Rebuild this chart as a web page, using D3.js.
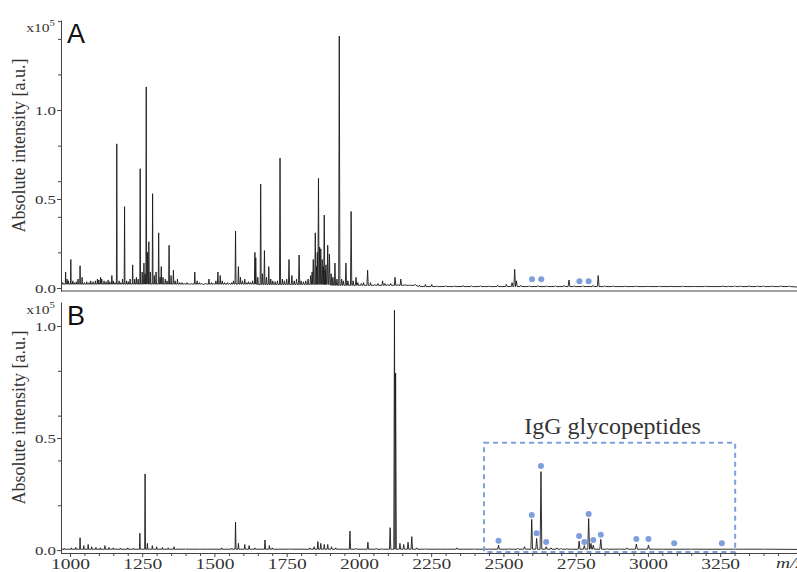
<!DOCTYPE html>
<html lang="en">
<head>
<meta charset="UTF-8">
<title>Mass spectra A / B</title>
<style>
  body { margin: 0; background: #fff; }
  svg { display: block; }
  .tick text, .lbl { font-family: "Liberation Serif", "Times New Roman", serif; fill: #333; }
  .domain, .tick line { stroke: #444; }
</style>
</head>
<body>
<div id="chart"></div>
<script src="https://d3js.org/d3.v7.min.js"></script>
<script>
// x axis ticks (m/z)
const xLabelTicks = [1000, 1250, 1500, 1750, 2000, 2250, 2500, 2750, 3000, 3250];
const xMinorStep = 50;
// y axis ticks (x10^5)
const yTicksA = [0, 0.2, 0.4, 0.5, 0.6, 0.8, 1.0, 1.2, 1.4, 1.5];
const yTicksB = [0, 0.2, 0.4, 0.5, 0.6, 0.8, 1.0];
const yLabelTicks = [0, 0.5, 1.0];

// spectrum A: [m/z, intensity x10^5]
const peaksA = [
  [985, 0.09], [1003, 0.16], [1035, 0.125], [1162, 0.81], [1189, 0.457], [1217, 0.13],
  [1243, 0.67], [1256, 0.14], [1264, 1.13], [1268, 0.2], [1273, 0.26], [1286, 0.53],
  [1307, 0.31], [1316, 0.12], [1343, 0.24], [1358, 0.10], [1372, 0.05], [1432, 0.09],
  [1481, 0.05], [1512, 0.09], [1520, 0.07], [1573, 0.32], [1583, 0.12], [1605, 0.05],
  [1640, 0.20], [1643, 0.17], [1660, 0.584], [1673, 0.21], [1688, 0.12], [1727, 0.73],
  [1758, 0.16], [1768, 0.07], [1793, 0.185], [1833, 0.07], [1842, 0.16], [1849, 0.31],
  [1856, 0.2], [1860, 0.616], [1864, 0.23], [1868, 0.22], [1873, 0.16], [1880, 0.41],
  [1886, 0.13], [1892, 0.24], [1898, 0.19], [1917, 0.14], [1932, 1.416], [1955, 0.14],
  [1973, 0.43], [1990, 0.06], [2030, 0.10], [2082, 0.04], [2125, 0.06], [2145, 0.05],
  [2252, 0.02], [2539, 0.105], [2545, 0.04], [2727, 0.045], [2828, 0.07]
];
const noiseA = [
  [975, 0.03], [990, 0.05], [995, 0.04], [1010, 0.04], [1015, 0.03], [1022, 0.035], [1028, 0.05],
  [1042, 0.06], [1050, 0.03], [1058, 0.035], [1066, 0.03], [1072, 0.04], [1080, 0.035], [1088, 0.04],
  [1095, 0.05], [1100, 0.045], [1106, 0.06], [1110, 0.05], [1118, 0.04], [1125, 0.035], [1132, 0.045],
  [1138, 0.035], [1145, 0.07], [1150, 0.04], [1156, 0.03], [1170, 0.04], [1176, 0.03], [1182, 0.05],
  [1196, 0.04], [1202, 0.035], [1208, 0.05], [1224, 0.05], [1230, 0.06], [1236, 0.05], [1250, 0.09],
  [1260, 0.08], [1278, 0.09], [1292, 0.07], [1298, 0.09], [1312, 0.06], [1322, 0.06], [1330, 0.05],
  [1336, 0.04], [1350, 0.07], [1364, 0.04], [1380, 0.03], [1388, 0.03], [1396, 0.025], [1405, 0.03],
  [1412, 0.02], [1420, 0.025], [1440, 0.04], [1448, 0.03], [1455, 0.025], [1462, 0.02], [1470, 0.025],
  [1490, 0.03], [1498, 0.025], [1505, 0.04], [1527, 0.04], [1535, 0.03], [1545, 0.03], [1552, 0.025],
  [1560, 0.03], [1566, 0.04], [1590, 0.06], [1597, 0.04], [1612, 0.03], [1618, 0.035], [1625, 0.03],
  [1632, 0.04], [1650, 0.06], [1666, 0.08], [1680, 0.06], [1695, 0.05], [1702, 0.04], [1710, 0.035],
  [1718, 0.04], [1735, 0.05], [1742, 0.04], [1750, 0.05], [1776, 0.04], [1784, 0.05], [1800, 0.04],
  [1808, 0.035], [1816, 0.04], [1824, 0.05], [1838, 0.09], [1853, 0.12], [1877, 0.12], [1883, 0.1],
  [1904, 0.08], [1910, 0.06], [1924, 0.05], [1940, 0.05], [1946, 0.04], [1962, 0.04], [1980, 0.04],
  [1996, 0.03], [2008, 0.025], [2016, 0.03], [2040, 0.03], [2055, 0.02], [2066, 0.025], [2090, 0.025],
  [2100, 0.02], [2110, 0.025], [2135, 0.02], [2160, 0.02], [2175, 0.015], [2195, 0.02], [2210, 0.015],
  [2230, 0.02], [2270, 0.012], [2300, 0.013], [2330, 0.012], [2360, 0.014], [2390, 0.012], [2420, 0.013],
  [2450, 0.012], [2480, 0.015], [2510, 0.02], [2530, 0.03], [2560, 0.015], [2590, 0.013], [2620, 0.014],
  [2650, 0.012], [2680, 0.013], [2710, 0.015], [2745, 0.012], [2775, 0.013], [2810, 0.015], [2850, 0.012],
  [2880, 0.011], [2920, 0.01], [2960, 0.011], [3000, 0.01], [3040, 0.01], [3080, 0.01], [3120, 0.01],
  [3160, 0.009], [3200, 0.01], [3260, 0.012], [3280, 0.01], [3300, 0.012], [3320, 0.011], [3350, 0.012],
  [3380, 0.011], [3400, 0.012], [3430, 0.011], [3460, 0.012], [3490, 0.011]
];
const baselineA = [[960, 0.022], [1650, 0.02], [1900, 0.015], [2200, 0.008], [3520, 0.005]];
const dotsA = [[2599, 0.049], [2631, 0.049], [2763, 0.038], [2795, 0.038]];

// spectrum B
const peaksB = [
  [1035, 0.055], [1063, 0.025], [1121, 0.02], [1242, 0.075], [1260, 0.34], [1268, 0.03],
  [1573, 0.125], [1583, 0.03], [1605, 0.025], [1675, 0.045], [1858, 0.038], [1868, 0.03],
  [1880, 0.025], [1892, 0.025], [1969, 0.085], [2031, 0.035], [2108, 0.1], [2123, 1.07],
  [2127, 0.79], [2142, 0.03], [2155, 0.025], [2170, 0.035], [2183, 0.06], [2339, 0.01],
  [2483, 0.022], [2573, 0.015], [2598, 0.137], [2615, 0.052], [2630, 0.35], [2648, 0.015],
  [2665, 0.01], [2685, 0.01], [2762, 0.04], [2780, 0.02], [2795, 0.141], [2803, 0.03],
  [2811, 0.022], [2837, 0.048], [2927, 0.01], [2960, 0.027], [3002, 0.022]
];
const noiseB = [
  [980, 0.008], [1005, 0.01], [1020, 0.012], [1048, 0.02], [1075, 0.015], [1090, 0.012], [1105, 0.01],
  [1135, 0.012], [1150, 0.01], [1175, 0.008], [1200, 0.01], [1220, 0.008], [1285, 0.02], [1300, 0.015],
  [1320, 0.012], [1340, 0.01], [1360, 0.015], [1400, 0.006], [1450, 0.005], [1525, 0.01], [1560, 0.008],
  [1620, 0.02], [1640, 0.01], [1690, 0.02], [1700, 0.01], [1760, 0.006], [1830, 0.01], [1845, 0.015],
  [1905, 0.015], [1920, 0.01], [1990, 0.008], [2060, 0.008], [2080, 0.006], [2200, 0.01], [2230, 0.006],
  [2280, 0.005], [2400, 0.005], [2450, 0.005], [2520, 0.006], [2550, 0.008], [2700, 0.008], [2720, 0.006],
  [2860, 0.006], [2900, 0.005], [3050, 0.004], [3150, 0.004], [3300, 0.004], [3400, 0.004]
];
const baselineB = [[960, 0.004], [3520, 0.003]];
const dotsB = [
  [2483, 0.042], [2598, 0.157], [2615, 0.075], [2630, 0.375], [2648, 0.036], [2762, 0.063],
  [2780, 0.036], [2795, 0.161], [2811, 0.045], [2837, 0.068], [2960, 0.05], [3002, 0.05],
  [3091, 0.03], [3256, 0.03]
];
// highlighted region in B (m/z range, intensity range)
const boxMz = [2433, 3302];
const boxInt = [-0.008, 0.479];
const boxLabel = "IgG glycopeptides";

const width = 797, height = 572;
const dotColor = "#7f9fdc";

const svg = d3.select("#chart").append("svg")
  .attr("width", width).attr("height", height);

const x = d3.scaleLinear().domain([969, 3516]).range([61, 797]);
const yA = d3.scaleLinear().domain([-0.017, 1.506]).range([291, 20]);
const yB = d3.scaleLinear().domain([-0.013, 1.107]).range([553, 302]);

svg.append("clipPath").attr("id", "plot")
  .append("rect").attr("x", 62).attr("y", 0).attr("width", 740).attr("height", height);

function baseAt(baseline, mz) {
  let b = baseline[0][1];
  baseline.forEach(k => { if (k[0] <= mz) b = k[1]; });
  return b;
}

function spectrumPoints(peaks, noise, baseline) {
  const all = peaks.concat(noise).sort((a, b) => a[0] - b[0]);
  const pts = [[baseline[0][0], baseline[0][1]]];
  all.forEach(([mz, h]) => {
    const b = baseAt(baseline, mz);
    const hw = mz * 0.0011;
    pts.push([mz - hw, b], [mz, h], [mz + hw, b]);
  });
  const last = baseline[baseline.length - 1];
  pts.push([last[0], last[1]]);
  return pts;
}

function drawPanel(y, peaks, noise, baseline, dots, yTicks, letter, top) {
  const g = svg.append("g");

  // spectrum
  const line = d3.line().x(d => x(d[0])).y(d => y(d[1]));
  g.append("path")
    .datum(spectrumPoints(peaks, noise, baseline))
    .attr("clip-path", "url(#plot)")
    .attr("fill", "none")
    .attr("stroke", "#1a1a1a")
    .attr("stroke-width", 0.9)
    .attr("stroke-linejoin", "round")
    .attr("d", line);

  // markers
  g.selectAll("circle.dot").data(dots).join("circle")
    .attr("class", "dot")
    .attr("cx", d => x(d[0])).attr("cy", d => y(d[1]))
    .attr("r", 3).attr("fill", dotColor);

  // y axis
  const ya = g.append("g")
    .attr("transform", `translate(${x.range()[0]},0)`)
    .call(d3.axisLeft(y).tickValues(yTicks).tickSize(3).tickSizeOuter(0)
      .tickFormat(d => yLabelTicks.includes(d) ? d3.format(".1f")(d) : ""));
  ya.selectAll(".tick text")
    .attr("x", 0).attr("dy", "0.36em")
    .attr("transform", "translate(-5,0) scale(1.3,1)")
    .style("font-size", "13px");
  ya.selectAll(".tick line").attr("x2", d => yLabelTicks.includes(d) ? -4 : -3);

  // x10^5
  const ex = g.append("text").attr("class", "lbl")
    .attr("text-anchor", "end")
    .attr("transform", `translate(${x.range()[0] - 6},${top + 12}) scale(1.2,1)`)
    .style("font-size", "13px");
  ex.append("tspan").text("x10");
  ex.append("tspan").attr("dy", -6).style("font-size", "9px").text("5");

  // axis title
  g.append("text").attr("class", "lbl")
    .attr("text-anchor", "middle")
    .attr("transform", `translate(25,${(top + y.range()[0]) / 2 - 10}) rotate(-90)`)
    .style("font-size", "18px")
    .text("Absolute intensity [a.u.]");

  // panel letter
  g.append("text")
    .attr("x", 67).attr("y", top + 23)
    .style("font-family", "'Liberation Sans', Arial, sans-serif")
    .style("font-size", "27px").attr("fill", "#111")
    .text(letter);
  return g;
}

// panel A
drawPanel(yA, peaksA, noiseA, baselineA, dotsA, yTicksA, "A", 20);
svg.append("line")
  .attr("x1", x.range()[0]).attr("x2", width)
  .attr("y1", yA.range()[0]).attr("y2", yA.range()[0])
  .attr("stroke", "#444");

// panel B
const gB = drawPanel(yB, peaksB, noiseB, baselineB, dotsB, yTicksB, "B", 302);

// highlight box
gB.append("rect")
  .attr("x", x(boxMz[0])).attr("y", yB(boxInt[1]))
  .attr("width", x(boxMz[1]) - x(boxMz[0]))
  .attr("height", yB(boxInt[0]) - yB(boxInt[1]))
  .attr("fill", "none").attr("stroke", dotColor)
  .attr("stroke-width", 2).attr("stroke-dasharray", "5,4");
gB.append("text").attr("class", "lbl")
  .attr("x", (x(boxMz[0]) + x(boxMz[1])) / 2 + 3)
  .attr("y", yB(boxInt[1]) - 9)
  .attr("text-anchor", "middle")
  .style("font-size", "24px").attr("fill", "#222")
  .text(boxLabel);

// x axis (B)
const xTickValues = d3.range(1000, 3500, xMinorStep);
const xa = svg.append("g")
  .attr("transform", `translate(0,${yB.range()[0]})`)
  .call(d3.axisBottom(x).tickValues(xTickValues).tickSize(3).tickSizeOuter(0)
    .tickFormat(d => xLabelTicks.includes(d) ? d : ""));
xa.select(".domain").attr("d", `M${x.range()[0]},0.5H${width}`);
xa.selectAll(".tick line").attr("y2", d => xLabelTicks.includes(d) ? 4 : 3);
xa.selectAll(".tick text")
  .attr("x", 0).attr("y", 5)
  .attr("transform", "scale(1.3,1)")
  .style("font-size", "15px");

svg.append("text").attr("class", "lbl")
  .attr("x", 597).attr("y", 568)
  .style("font-size", "15px").style("font-style", "italic")
  .attr("transform", "scale(1.3,1)")
  .text("m/z");
</script>
</body>
</html>
